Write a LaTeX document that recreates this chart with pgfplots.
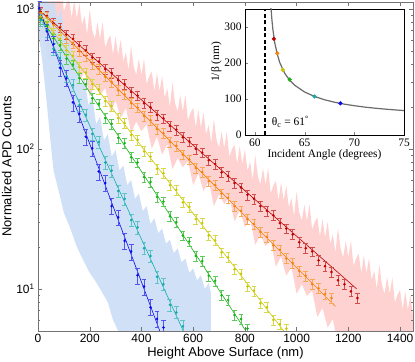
\documentclass[border=0pt]{standalone}
\usepackage{fontspec}
\setmainfont{Liberation Sans}
\newfontfamily\tnr{Liberation Serif}
\usepackage{pgfplots}
\pgfplotsset{compat=1.18}

\definecolor{cRed}{RGB}{190,0,0}
\definecolor{cOrange}{RGB}{245,130,10}
\definecolor{cYellow}{RGB}{200,200,0}
\definecolor{cGreen}{RGB}{20,180,20}
\definecolor{cTeal}{RGB}{20,170,170}
\definecolor{cBlue}{RGB}{10,10,235}
\definecolor{rawRed}{RGB}{255,210,210}
\definecolor{rawBlue}{RGB}{203,222,246}

\pgfplotsset{
  pts/.style n args={2}{only marks, mark=*, mark size=1.1bp, #1,
    error bars/.cd, y dir=both, y fixed relative=#2,
    error bar style={line width=0.5pt, #1!70},
    error mark options={rotate=90, mark size=2.4bp, line width=0.5pt, #1!70}},
  fit/.style={#1, line width=0.6pt, mark=none},
}

\begin{document}
\begin{tikzpicture}
\begin{axis}[
    scale only axis, width=375bp, height=329bp,
    xmin=0, xmax=1450, ymode=log, ymin=5, ymax=1120,
    xtick={0,200,...,1400},
    ytick={10,100,1000},
    yticklabels={10\textsuperscript{1},10\textsuperscript{2},10\textsuperscript{3}},
    minor ytick={6,7,8,9,20,30,40,50,60,70,80,90,200,300,400,500,600,700,800,900},
    tick align=inside, major tick length=4bp, minor tick length=2.2bp,
    axis line style={black!55}, every tick/.style={black!55},
    xlabel={Height Above Surface (nm)}, ylabel={Normalized APD Counts},
    label style={font=\fontsize{13}{13}\selectfont},
    tick label style={font=\fontsize{12}{12}\selectfont},
    xlabel style={yshift=3bp}, ylabel style={yshift=-2bp},
    /pgf/number format/1000 sep={},
    /pgf/number format/assume math mode=true,
    axis on top,
]
\coordinate (bl) at (rel axis cs:0,0);
\coordinate (tr) at (rel axis cs:1,1);
% raw trace, red series (envelope of the noisy signal)
\addplot[draw=none, fill=rawRed] coordinates {
(0,2000)(10,1396)(20,1624)(30,1207)(40,1808)(50,1285)(60,1119)(70,1461)
(80,1112)(90,1464)(100,963)(110,1092)(120,1180)(130,861)(140,1154)(150,855)
(160,1098)(170,767)(180,893)(190,663)(200,993)(210,705)(220,615)(230,804)
(240,611)(250,804)(260,529)(270,601)(280,648)(290,472)(300,634)(310,470)
(320,604)(330,422)(340,490)(350,365)(360,546)(370,388)(380,337)(390,441)
(400,336)(410,441)(420,290)(430,330)(440,357)(450,259)(460,349)(470,258)
(480,332)(490,232)(500,270)(510,200)(520,300)(530,212)(540,185)(550,243)
(560,185)(570,242)(580,160)(590,182)(600,196)(610,143)(620,191)(630,142)
(640,182)(650,127)(660,148)(670,110)(680,164)(690,117)(700,102)(710,133)
(720,101)(730,133)(740,87.6)(750,99.5)(760,107)(770,78.3)(780,105)(790,77.9)
(800,100)(810,69.7)(820,81.2)(830,60.3)(840,90.3)(850,64.2)(860,55.9)(870,73)
(880,55.5)(890,73.2)(900,48.2)(910,54.6)(920,59)(930,43)(940,57.7)(950,42.8)
(960,54.8)(970,38.3)(980,44.6)(990,33.1)(1000,49.6)(1010,35.3)(1020,30.7)(1030,40.1)
(1040,30.5)(1050,40.2)(1060,26.5)(1070,30)(1080,32.4)(1090,23.7)(1100,31.6)(1110,23.4)
(1120,30.2)(1130,21)(1140,24.5)(1150,18.2)(1160,27.3)(1170,19.4)(1180,16.8)(1190,22)
(1200,16.8)(1210,22.1)(1220,14.6)(1230,16.5)(1240,17.8)(1250,13)(1260,17.4)(1270,12.9)
(1280,16.6)(1290,11.6)(1300,13.5)(1310,10)(1320,14.9)(1330,10.7)(1340,9.2)(1350,12.2)
(1360,9.2)(1370,12.1)(1380,8)(1390,9.1)(1400,9.8)(1410,7.1)(1420,9.6)(1430,7.1)
(1440,9)(1450,6.4)(1460,9)
(1460,3)(1180,3)(1160,3.9)(1140,6.1)(1120,5.3)(1100,7.3)(1080,6.3)(1060,9.7)
(1040,8.9)(1020,10.8)(1000,9.2)(980,14.3)(960,12.4)(940,17)(920,14.4)(900,22)
(880,20.2)(860,24.2)(840,20.6)(820,31.8)(800,27.5)(780,36.6)(760,30.2)(740,45)
(720,40.4)(700,47.3)(680,39)(660,59)(640,50)(620,66.6)(600,55)(580,82)
(560,73.8)(540,85.8)(520,71.5)(500,108)(480,91)(460,122)(440,100)(420,149)
(400,134)(380,157)(360,130)(340,196)(320,166)(300,221)(280,182)(260,272)
(240,244)(220,285)(200,236)(180,357)(160,302)(140,403)(120,332)(100,495)
(80,445)(60,519)(40,430)(20,650)(0,550)
} -- cycle;
% raw trace, blue series
\addplot[draw=none, fill=rawBlue, fill opacity=0.9] coordinates {
(0,1300)(15,1150)(30,1300)(45,1050)(60,1200)(75,850)(90,1000)(105,600)
(120,680)(135,420)(150,480)(165,290)(180,320)(195,205)(210,235)(225,150)
(240,170)(255,115)(270,128)(285,88)(300,98)(315,70)(330,76)(345,55)
(360,60)(375,44)(390,48)(405,36)(420,39)(435,29)(450,32)(465,25)(480,27)
(495,21)(510,22.5)(525,18)(540,19.5)(555,15.5)(570,16.5)(585,13)(600,14)
(615,11.5)(630,12.5)(645,10)(660,11)(668,9.5)(668,3)
(330,3)(310,5)(290,6)(270,8)(240,10)(220,11.5)(200,13)(175,16)(150,20)
(125,27)(100,35)(80,50)(60,70)(45,130)(30,250)(15,450)(0,700)
} -- cycle;
% exponential fits
\addplot[fit=cRed] coordinates {(0,1000)(1232,10)};
\addplot[fit=cOrange] coordinates {(0,1000)(1150,7.5)};
\addplot[fit=cYellow] coordinates {(0,950)(1000,3.8)};
\addplot[fit=cGreen] coordinates {(0,930)(850,3.7)};
\addplot[fit=cTeal] coordinates {(0,950)(600,3.5)};
\addplot[fit=cBlue] coordinates {(0,1050)(500,3.6)};
% measured points
\addplot[pts={cRed}{0.08}] coordinates {
(10,955)(35,890)(60,790)(85,735)(110,655)(135,610)(160,545)(185,505)
(210,450)(235,420)(260,372)(285,348)(310,310)(335,290)(360,255)(385,240)
(410,212)(435,198)(460,175)(485,165)(510,146)(535,137)(560,121)(585,113)
(610,100)(635,94)(660,83)(685,78)(710,68)(735,64)(760,57)(785,53)
(810,47)(835,44)(860,39)(885,36)(910,33.5)(935,29.5)(960,27)(985,24.5)
(1010,21.5)(1035,19.5)(1060,18.5)(1085,16)(1110,14.5)(1135,13.2)(1160,11.5)
(1185,10.8)(1210,9.6)(1235,8.6)
};
\addplot[pts={cOrange}{0.08}] coordinates {
(10,935)(35,870)(60,770)(85,700)(110,615)(135,570)(160,500)(185,462)
(210,405)(235,372)(260,328)(285,300)(310,262)(335,244)(360,212)(385,197)
(410,172)(435,160)(460,139)(485,129)(510,112)(535,105)(560,91)(585,84)
(610,73)(635,68)(660,59)(685,55)(710,48)(735,44.5)(760,39)(785,36)
(810,31.5)(835,29)(860,25.5)(885,23.5)(910,20.5)(935,19)(960,16.5)(985,15.3)
(1010,13.4)(1035,12.4)(1060,10.8)(1085,10.1)(1110,9.2)(1135,8.6)
};
\addplot[pts={cYellow}{0.08}] coordinates {
(10,880)(35,800)(60,670)(85,610)(110,505)(135,462)(160,385)(185,350)
(210,290)(235,266)(260,220)(285,202)(310,166)(335,153)(360,126)(385,116)
(410,96)(435,88)(460,72)(485,67)(510,55)(535,51)(560,41.5)(585,38.5)
(610,31.5)(635,29.5)(660,24)(685,22.2)(710,18.2)(735,16.8)(760,13.8)(785,12.8)
(810,10.4)(835,9.7)(860,7.9)(885,7.4)(910,6.0)(935,5.6)(960,5.2)
};
\addplot[pts={cGreen}{0.08}] coordinates {
(10,850)(35,760)(60,615)(85,550)(110,440)(135,400)(160,320)(185,290)
(210,230)(235,210)(260,166)(285,151)(310,120)(335,110)(360,87)(385,80)
(410,63)(435,58)(460,45.5)(485,42)(510,33)(535,30)(560,24)(585,21.8)
(610,17.2)(635,15.8)(660,12.4)(685,11.4)(710,9.0)(735,8.3)(760,6.5)(785,6.1)
(810,5.2)
};
\addplot[pts={cTeal}{0.1}] coordinates {
(10,830)(35,700)(60,520)(85,445)(110,330)(135,285)(160,205)(185,175)
(210,128)(235,112)(260,80)(285,70)(310,50)(335,44)(360,31)(385,27.5)
(410,19.5)(435,17.2)(460,12.2)(485,10.8)(510,7.7)(535,6.8)(560,5.4)
};
\addplot[pts={cBlue}{0.13}] coordinates {
(5,1010)(35,690)(60,560)(85,380)(110,320)(135,215)(160,178)(185,122)
(210,101)(235,69)(260,57)(285,39)(310,32.5)(335,22)(360,18.5)(385,12.5)
(410,10.4)(435,7.4)(460,6.1)(485,5.3)
};
\end{axis}

\begin{axis}[
    at={(207bp,196bp)}, anchor=south west,
    scale only axis, width=159bp, height=126bp,
    xmin=59, xmax=75, ymin=0, ymax=350,
    xtick={60,65,70,75}, ytick={0,100,200,300},
    tick pos=left, tick align=inside, major tick length=3bp,
    axis background/.style={fill=white},
    font=\tnr\fontsize{11.5}{11.5}\selectfont,
    xlabel={Incident Angle (degrees)}, ylabel={1/β (nm)},
    xlabel style={yshift=4bp},
    ylabel style={yshift=-4bp, at={(ticklabel cs:0.58)}},
    /pgf/number format/assume math mode=true,
]
\addplot[black, line width=1.5pt, dash pattern=on 4bp off 2.5bp] coordinates {(61,0)(61,350)};
\addplot[black!58, line width=1.2pt] coordinates {
(61.6,360.5)(61.7,322.8)(61.8,294.4)(62.0,255.4)(62.25,224.4)(62.5,200.9)
(63,171.2)(63.5,152.0)(64,138.2)(65,119.4)(66,107.0)(67,97.9)(68,91.1)
(69,85.7)(70,81.4)(71,77.7)(72,74.7)(73,72.1)(74,69.9)(75,67.9)
};
\addplot[only marks, mark=*, mark size=1.9bp, cRed] coordinates {(61.9,267)};
\addplot[only marks, mark=*, mark size=1.9bp, cOrange] coordinates {(62.25,227)};
\addplot[only marks, mark=*, mark size=1.9bp, cYellow] coordinates {(62.8,181)};
\addplot[only marks, mark=*, mark size=1.9bp, cGreen] coordinates {(63.5,154)};
\addplot[only marks, mark=*, mark size=1.9bp, cTeal] coordinates {(66.0,107)};
\addplot[only marks, mark=*, mark size=1.9bp, cBlue] coordinates {(68.6,88)};
\node[anchor=west] at (axis cs:61.35,36) {θ\textsubscript{c} = 61\textsuperscript{°}};
\end{axis}

\path (bl) ++(-38bp,-31bp) coordinate (p1);
\path (tr) ++(2bp,2bp) coordinate (p2);
\pgfresetboundingbox
\path (p1) rectangle (p2);
\end{tikzpicture}
\end{document}
